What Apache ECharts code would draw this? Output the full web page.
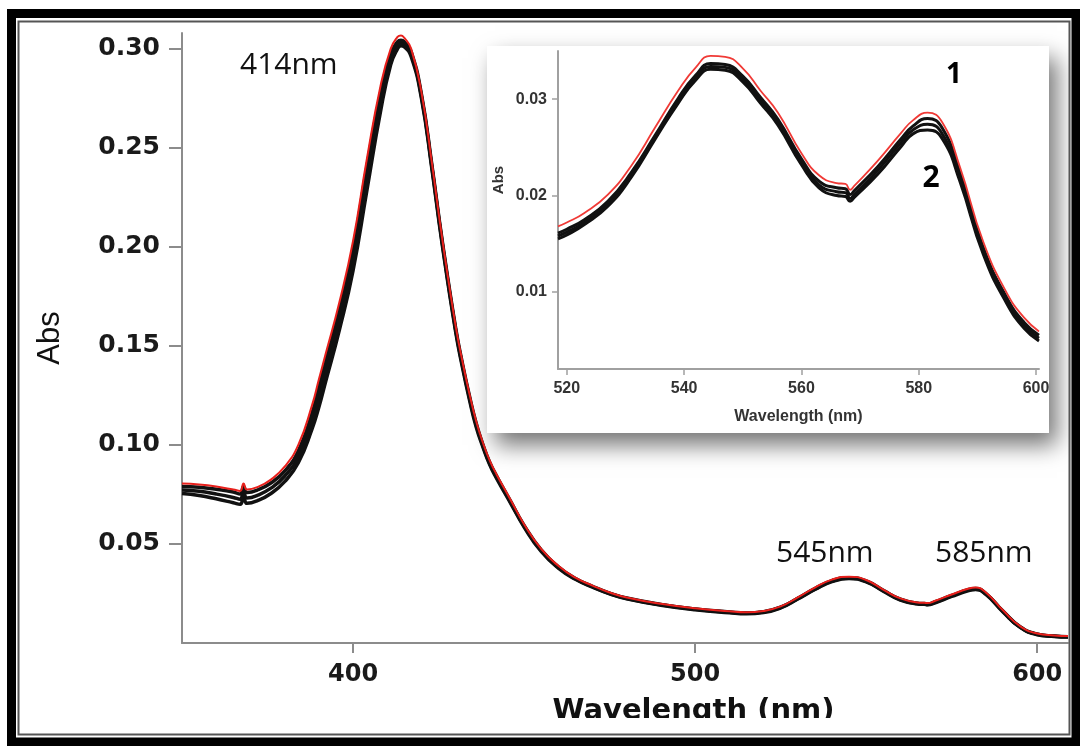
<!DOCTYPE html>
<html><head><meta charset="utf-8">
<script src="https://cdn.jsdelivr.net/npm/echarts@6/dist/echarts.min.js"></script>
<style>html,body{margin:0;padding:0;background:#fff}#c{width:1080px;height:746px}</style>
</head><body><div id="c"></div><script>
// ---- main spectrum data ----
const wavelengths = [350,355,360,365,367,368,369,372,376,380,384,388,390,392,396,400,404,408,411,413,414,415,417,420,423,426,430,432,434,436,438,440,442,446,450,455,460,465,470,475,480,490,500,510,515,520,525,530,535,540,545,550,555,560,565,567,568,570,575,580,582,585,590,595,600,605,609];
const absCurve1 = [0.0805,0.0800,0.0790,0.0775,0.0768,0.0805,0.0775,0.0787,0.0825,0.0890,
  0.1000,0.1200,0.1330,0.1460,0.1720,0.2030,0.2440,0.2810,0.3000,0.3060,
  0.3068,0.3055,0.3000,0.2780,0.2430,0.2050,0.1600,0.1420,0.1260,0.1120,0.1010,0.0920,0.0850,
  0.0725,0.0600,0.0475,0.0390,0.0330,0.0290,0.0255,0.0230,0.0198,0.0175,
  0.0160,0.0155,0.0162,0.0185,0.0230,0.0280,0.0320,0.0335,0.0318,0.0270,
  0.0225,0.0205,0.0203,0.0202,0.0212,0.0245,0.0275,0.0280,0.0255,0.0165,
  0.0085,0.0048,0.0038,0.0035];
const absBlackUpper = [0.0790,0.0786,0.0776,0.0762,0.0752,0.0790,0.0760,0.0772,0.0808,0.0868,
  0.0970,0.1160,0.1290,0.1420,0.1680,0.1990,0.2400,0.2775,0.2975,0.3035,
  0.3043,0.3035,0.2985,0.2770,0.2420,0.2040,0.1590,0.1410,0.1250,0.1110,0.1000,0.0910,0.0842,
  0.0718,0.0594,0.0470,0.0385,0.0326,0.0286,0.0252,0.0227,0.0195,0.0172,
  0.0157,0.0152,0.0158,0.0181,0.0226,0.0275,0.0315,0.0330,0.0313,0.0266,
  0.0221,0.0201,0.0199,0.0197,0.0207,0.0240,0.0270,0.0275,0.0250,0.0161,
  0.0082,0.0045,0.0035,0.0032];
const absBlackMiddle = [0.0772,0.0766,0.0752,0.0735,0.0726,0.0762,0.0732,0.0745,0.0782,0.0842,
  0.0940,0.1120,0.1240,0.1370,0.1630,0.1935,0.2340,0.2728,0.2948,0.3018,
  0.3029,0.3022,0.2972,0.2760,0.2410,0.2030,0.1580,0.1400,0.1240,0.1100,0.0994,0.0904,0.0836,
  0.0713,0.0590,0.0466,0.0382,0.0324,0.0284,0.0250,0.0225,0.0193,0.0170,
  0.0155,0.0150,0.0156,0.0179,0.0224,0.0272,0.0312,0.0328,0.0311,0.0264,
  0.0219,0.0199,0.0197,0.0195,0.0205,0.0238,0.0268,0.0272,0.0248,0.0159,
  0.0080,0.0044,0.0034,0.0031];
const absBlackLower = [0.0755,0.0745,0.0728,0.0708,0.0700,0.0735,0.0705,0.0718,0.0755,0.0815,
  0.0910,0.1080,0.1190,0.1320,0.1580,0.1880,0.2280,0.2680,0.2920,0.3000,
  0.3015,0.3010,0.2960,0.2750,0.2400,0.2020,0.1570,0.1390,0.1230,0.1090,0.0988,0.0898,0.0830,
  0.0708,0.0586,0.0462,0.0378,0.0322,0.0282,0.0248,0.0223,0.0191,0.0168,
  0.0153,0.0148,0.0154,0.0177,0.0222,0.0270,0.0310,0.0326,0.0309,0.0262,
  0.0217,0.0197,0.0195,0.0193,0.0202,0.0235,0.0265,0.0270,0.0245,0.0157,
  0.0079,0.0042,0.0033,0.0030];
const mainXTicks = [400,500,600];
const mainYTicks = [0.05,0.10,0.15,0.20,0.25,0.30];

// ---- inset data ----
const insetWavelengths = [518.5,520,523,527,531,535,539,542,544.5,547,550,553,556,560,563,566,567.5,568.3,569,573,577,579,581.5,584,587,591,595,598,600.5];
const insetCurve1 = [0.0168,0.0172,0.0182,0.0201,0.0231,0.0270,0.0309,0.0333,0.0345,0.0344,0.0332,0.0309,0.0286,0.0244,0.0221,0.0213,0.0212,0.0206,0.0210,0.0236,0.0265,0.0278,0.0286,0.0276,0.0230,0.0152,0.0099,0.0073,0.0059];
const insetBlackUpper = [0.0161,0.0165,0.0175,0.0194,0.0224,0.0262,0.0301,0.0325,0.0337,0.0336,0.0324,0.0302,0.0279,0.0238,0.0215,0.0208,0.0207,0.0201,0.0205,0.0230,0.0259,0.0272,0.0280,0.0270,0.0224,0.0146,0.0094,0.0068,0.0055];
const insetBlackMiddle = [0.0158,0.0162,0.0172,0.0191,0.0221,0.0260,0.0298,0.0322,0.0334,0.0333,0.0321,0.0299,0.0276,0.0235,0.0211,0.0204,0.0203,0.0197,0.0201,0.0226,0.0255,0.0268,0.0274,0.0264,0.0219,0.0142,0.0091,0.0065,0.0052];
const insetBlackLower = [0.0155,0.0159,0.0170,0.0189,0.0219,0.0258,0.0296,0.0320,0.0331,0.0330,0.0318,0.0296,0.0273,0.0232,0.0208,0.0200,0.0199,0.0194,0.0198,0.0222,0.0251,0.0264,0.0268,0.0259,0.0215,0.0139,0.0088,0.0062,0.0049];
const insetXTicks = [520,540,560,580,600];
const insetYTicks = [0.01,0.02,0.03];

const peakLabels = ['414nm','545nm','585nm'];
const curveLabels = ['1','2'];

function pairs(xs, ys){ return xs.map((x,i)=>[x, ys[i]]); }

const chart = echarts.init(document.getElementById('c'), null, {renderer:'canvas'});
const axisGray = '#8c8c8c';
const lineSeries = (name, xi, xs, ys, color, width, z) => ({
  name, type:'line', xAxisIndex:xi, yAxisIndex:xi, data:pairs(xs, ys),
  showSymbol:false, smooth:0.5, z,
  lineStyle:{color, width}, emphasis:{disabled:true}, silent:true
});

chart.setOption({
  backgroundColor:'#ffffff',
  animation:false,
  grid:[
    {left:182, right:12, top:33, bottom:103},
    {left:558, right:41, top:51, bottom:377}
  ],
  xAxis:[
    {type:'value', gridIndex:0, min:350, max:609,
     axisLine:{show:true, onZero:false, lineStyle:{color:axisGray, width:2}},
     axisTick:{show:true, length:10, customValues:mainXTicks, lineStyle:{color:axisGray, width:2}},
     axisLabel:{customValues:mainXTicks, margin:20, color:'#1a1a1a', fontFamily:'DejaVu Sans', fontWeight:'bold', fontSize:24},
     splitLine:{show:false},
     name:'Wavelength (nm)', nameLocation:'middle', nameGap:54,
     nameTextStyle:{fontFamily:'DejaVu Sans', fontWeight:'bold', fontSize:29, color:'#111', padding:[0,0,0,137]}
    },
    {type:'value', gridIndex:1, min:518.5, max:600.5, z:20,
     axisLine:{show:true, onZero:false, lineStyle:{color:'#a0a0a0', width:2}},
     axisTick:{show:true, length:6, customValues:insetXTicks, lineStyle:{color:'#a0a0a0', width:1.5}},
     axisLabel:{customValues:insetXTicks, margin:12, color:'#333', fontFamily:'Liberation Sans', fontWeight:'bold', fontSize:16},
     splitLine:{show:false},
     name:'Wavelength (nm)', nameLocation:'middle', nameGap:40,
     nameTextStyle:{fontFamily:'Liberation Sans', fontWeight:'bold', fontSize:16, color:'#333'}
    }
  ],
  yAxis:[
    {type:'value', gridIndex:0, min:0, max:0.308,
     axisLine:{show:true, onZero:false, lineStyle:{color:axisGray, width:2}},
     axisTick:{show:true, length:13, customValues:mainYTicks, lineStyle:{color:axisGray, width:2}},
     axisLabel:{customValues:mainYTicks, margin:22, color:'#1a1a1a', fontFamily:'DejaVu Sans', fontWeight:'bold', fontSize:25,
       formatter:v=>v.toFixed(2)},
     splitLine:{show:false},
     name:'Abs', nameLocation:'middle', nameGap:116,
     nameTextStyle:{fontFamily:'Liberation Sans', fontSize:31, color:'#111'}
    },
    {type:'value', gridIndex:1, min:0.002, max:0.035, z:20,
     axisLine:{show:true, onZero:false, lineStyle:{color:'#a0a0a0', width:2}},
     axisTick:{show:true, length:6, customValues:insetYTicks, lineStyle:{color:'#a0a0a0', width:1.5}},
     axisLabel:{customValues:insetYTicks, margin:11, color:'#333', fontFamily:'Liberation Sans', fontWeight:'bold', fontSize:16,
       formatter:v=>v.toFixed(2)},
     splitLine:{show:false},
     name:'Abs', nameLocation:'middle', nameGap:52,
     nameTextStyle:{fontFamily:'Liberation Sans', fontWeight:'bold', fontSize:15, color:'#333', padding:[0,0,0,60]}
    }
  ],
  series:[
    lineSeries('main lower', 0, wavelengths, absBlackLower, '#111', 3.5, 2),
    lineSeries('main middle', 0, wavelengths, absBlackMiddle, '#111', 3.5, 2),
    lineSeries('main upper', 0, wavelengths, absBlackUpper, '#111', 3.5, 2),
    lineSeries('main 1', 0, wavelengths, absCurve1, '#e8201c', 2, 3),
    lineSeries('inset lower', 1, insetWavelengths, insetBlackLower, '#111', 3, 20),
    lineSeries('inset middle', 1, insetWavelengths, insetBlackMiddle, '#111', 3, 20),
    lineSeries('inset upper', 1, insetWavelengths, insetBlackUpper, '#111', 3, 20),
    lineSeries('inset 1', 1, insetWavelengths, insetCurve1, '#f03a36', 1.8, 21)
  ],
  graphic:[
    {type:'rect', z:10, shape:{x:487, y:46, width:562, height:387},
     style:{fill:'#ffffff', shadowBlur:22, shadowOffsetX:8, shadowOffsetY:12, shadowColor:'rgba(0,0,0,0.55)'}},
    {type:'rect', z:50, shape:{x:20, y:718, width:1048, height:16}, style:{fill:'#ffffff'}},
    {type:'rect', z:100, shape:{x:11.5, y:13.5, width:1064.5, height:728.5}, style:{fill:null, stroke:'#000', lineWidth:9}},
    {type:'rect', z:100, shape:{x:18.5, y:21.5, width:1051, height:713}, style:{fill:null, stroke:'#555', lineWidth:2}},
    {type:'text', z:60, style:{text:peakLabels[0], x:240, y:65, font:'30px "Open Sans"', fill:'#111', textVerticalAlign:'middle'}},
    {type:'text', z:60, style:{text:peakLabels[1], x:776, y:553, font:'30px "Open Sans"', fill:'#111', textVerticalAlign:'middle'}},
    {type:'text', z:60, style:{text:peakLabels[2], x:935, y:553, font:'30px "Open Sans"', fill:'#111', textVerticalAlign:'middle'}},
    {type:'text', z:60, style:{text:curveLabels[0], x:954, y:75, font:'bold 28px "Open Sans"', fill:'#000', textAlign:'center', textVerticalAlign:'middle'}},
    {type:'text', z:60, style:{text:curveLabels[1], x:931, y:178, font:'bold 30px "Open Sans"', fill:'#000', textAlign:'center', textVerticalAlign:'middle'}}
  ]
});
</script></body></html>
